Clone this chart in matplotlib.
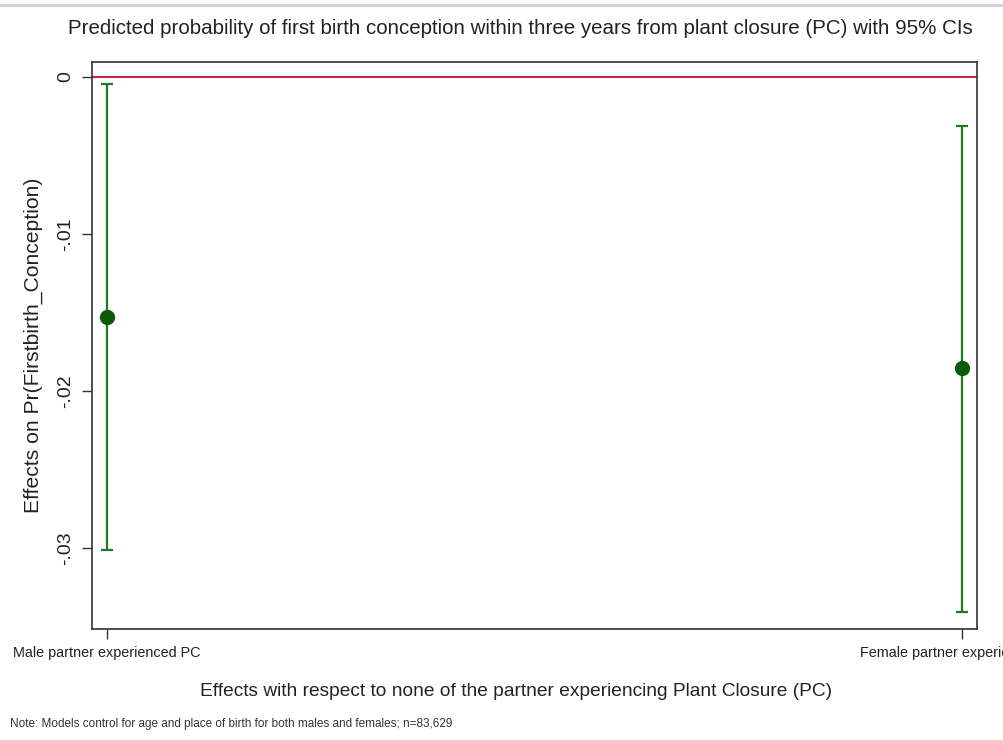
import matplotlib
matplotlib.use("Agg")
import matplotlib.pyplot as plt
from matplotlib.lines import Line2D

plt.rcParams['font.family'] = ['Liberation Sans', 'DejaVu Sans']

# Marginal effects with 95% confidence intervals
categories = ["Male partner experienced PC", "Female partner experienced PC"]
estimates = [-0.01530, -0.01855]
ci_low = [-0.03010, -0.03405]
ci_high = [-0.00045, -0.00310]

y_ticks = [0, -0.01, -0.02, -0.03]
y_tick_labels = ["0", "-.01", "-.02", "-.03"]

title = "Predicted probability of first birth conception within three years from plant closure (PC) with 95% CIs"
x_title = "Effects with respect to none of the partner experiencing Plant Closure (PC)"
y_title = "Effects on Pr(Firstbirth_Conception)"
note = "Note: Models control for age and place of birth for both males and females; n=83,629"

fig = plt.figure(figsize=(10.04, 7.4), dpi=100)
fig.patch.set_facecolor("white")
ax = fig.add_axes([0.0916, 0.15, 0.8815, 0.7662])

xs = list(range(len(categories)))
err_lo = [e - l for e, l in zip(estimates, ci_low)]
err_hi = [h - e for e, h in zip(estimates, ci_high)]

ax.axhline(0, color="#c8264b", lw=1.5, zorder=1)
ax.errorbar(xs, estimates, yerr=[err_lo, err_hi], fmt="none",
            ecolor="#1f7a1f", elinewidth=1.6, capsize=4.5, capthick=1.6, zorder=2)
ax.plot(xs, estimates, "o", color="#0a5c0a", markersize=10, zorder=3)

ax.set_xlim(-0.0175, 1.0175)
ax.set_ylim(-0.03516, 0.000955)
ax.set_xticks(xs)
ax.set_xticklabels(categories, fontsize=10.4, color="#222222")
ax.set_yticks(y_ticks)
ax.set_yticklabels(y_tick_labels, rotation=90, va="center", fontsize=14, color="#222222")
ax.tick_params(axis="both", length=7, width=1, color="#333333", pad=5)
ax.tick_params(axis="y", pad=6)

for s in ax.spines.values():
    s.set_color("#333333")
    s.set_linewidth(1.2)

ax.set_ylabel(y_title, fontsize=15.2, color="#222222", labelpad=10)
ax.set_xlabel(x_title, fontsize=13.8, color="#222222", labelpad=15)
ax.xaxis.set_label_coords(0.479, -0.096)

fig.text(0.518, 0.962, title, ha="center", va="center", fontsize=14.8, color="#222222")
fig.text(0.01, 0.021, note, ha="left", va="center", fontsize=8.45, color="#333333")

# thin rule across the top edge
fig.add_artist(Line2D([0, 1], [0.993, 0.993], transform=fig.transFigure,
                      color="#c9d3da", lw=2))

fig.savefig("out.png", dpi=100, facecolor="white")
